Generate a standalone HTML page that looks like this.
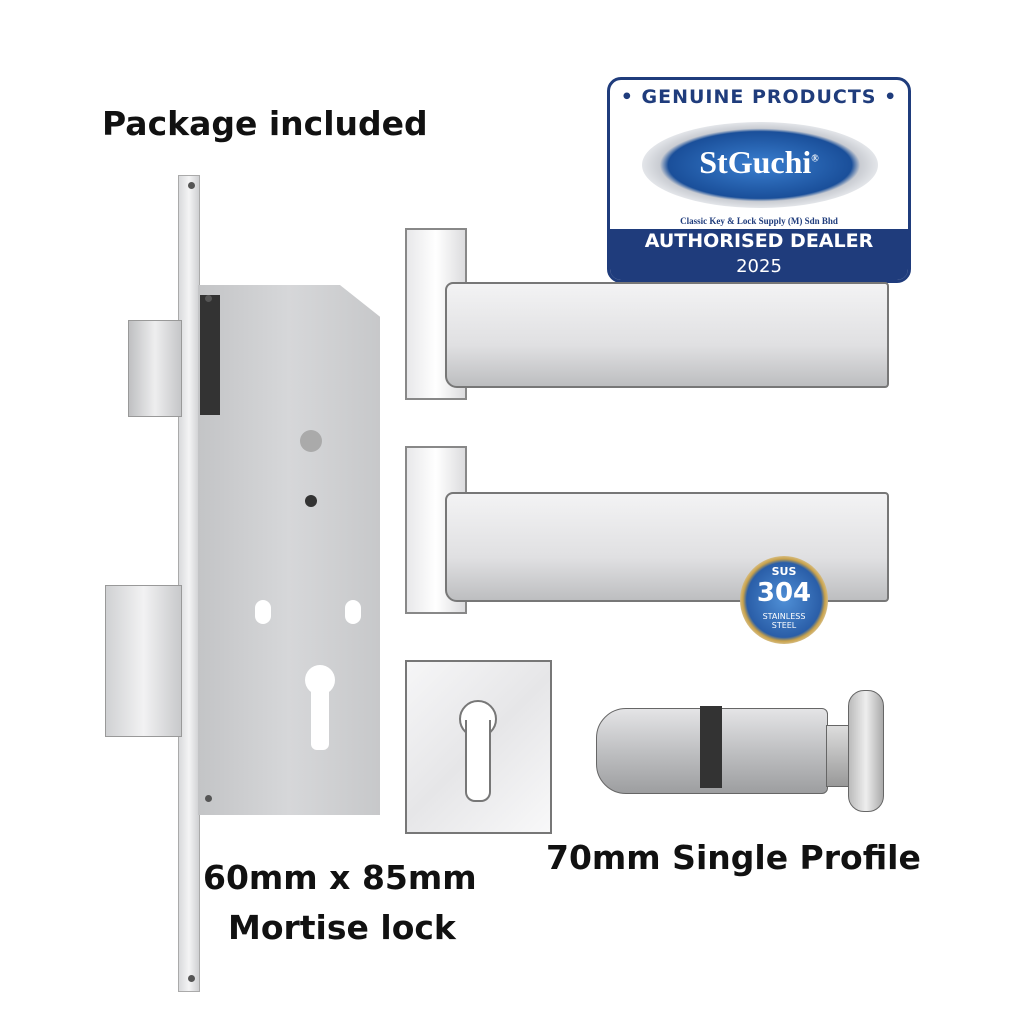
<!DOCTYPE html>
<html><head><meta charset="utf-8"><style>
body{margin:0;width:1024px;height:1024px;background:#fff;position:relative;overflow:hidden;font-family:"DejaVu Sans","Liberation Sans",sans-serif}
.a{position:absolute}
.t{position:absolute;font-weight:bold;color:#111;white-space:nowrap}
</style></head><body>
<div class="t" style="left:102px;top:104px;font-size:33px">Package included</div>

<!-- badge -->
<div class="a" style="left:607px;top:77px;width:298px;height:200px;border:3px solid #1f3c7c;border-radius:14px;background:#fff;overflow:hidden">
  <div class="a" style="left:0;top:6px;width:298px;text-align:center;font-size:19px;font-weight:bold;color:#1f3c7c;letter-spacing:1px">• GENUINE PRODUCTS •</div>
  <div class="a" style="left:32px;top:42px;width:236px;height:86px;border-radius:50%;background:radial-gradient(ellipse at center,#3a7fd0 0%,#1a4f9a 55%,#c9ccd2 60%,#eef0f3 75%,#fff 80%)"></div>
  <div class="a" style="left:0;top:64px;width:298px;text-align:center;font-family:'Liberation Serif',serif;font-size:32px;font-weight:bold;color:#fff">StGuchi<sup style="font-size:10px">®</sup></div>
  <div class="a" style="left:0;top:149px;width:298px;height:55px;background:#1f3c7c"></div>
  <div class="a" style="left:0;top:136px;width:298px;text-align:center;font-family:'Liberation Serif',serif;font-size:9px;font-weight:bold;color:#1f3c7c">Classic Key &amp; Lock Supply (M) Sdn Bhd</div>
  <div class="a" style="left:0;top:150px;width:298px;text-align:center;font-size:19px;font-weight:bold;color:#fff">AUTHORISED DEALER</div>
  <div class="a" style="left:0;top:176px;width:298px;text-align:center;font-size:18px;color:#fff">2025</div>
</div>

<!-- mortise lock -->
<div class="a" style="left:178px;top:175px;width:20px;height:815px;background:linear-gradient(90deg,#d9dadc,#f4f4f5,#cfd0d2);border:1px solid #aaa"></div>
<div class="a" style="left:128px;top:320px;width:52px;height:95px;background:linear-gradient(90deg,#bfc0c2,#eeeeef,#c5c6c8);border:1px solid #999"></div>
<div class="a" style="left:105px;top:585px;width:75px;height:150px;background:linear-gradient(90deg,#d0d1d3,#f2f2f3,#c8c9cb);border:1px solid #999"></div>
<div class="a" style="left:198px;top:285px;width:182px;height:530px;background:linear-gradient(90deg,#c3c4c6,#d6d7d9,#c7c8ca);clip-path:polygon(0 0,78% 0,100% 6%,100% 100%,0 100%)"></div>
<div class="a" style="left:305px;top:665px;width:30px;height:30px;background:#fff;border-radius:50%"></div>
<div class="a" style="left:311px;top:680px;width:18px;height:70px;background:#fff;border-radius:6px"></div>
<div class="a" style="left:255px;top:600px;width:16px;height:24px;background:#fff;border-radius:8px"></div>
<div class="a" style="left:345px;top:600px;width:16px;height:24px;background:#fff;border-radius:8px"></div>
<div class="a" style="left:200px;top:295px;width:20px;height:120px;background:#333"></div>
<div class="a" style="left:300px;top:430px;width:22px;height:22px;background:#aaa;border-radius:50%"></div>
<div class="a" style="left:305px;top:495px;width:12px;height:12px;background:#333;border-radius:50%"></div>
<div class="a" style="left:205px;top:295px;width:7px;height:7px;border-radius:50%;background:#555"></div>
<div class="a" style="left:205px;top:795px;width:7px;height:7px;border-radius:50%;background:#555"></div>
<div class="a" style="left:188px;top:182px;width:7px;height:7px;border-radius:50%;background:#555"></div>
<div class="a" style="left:188px;top:975px;width:7px;height:7px;border-radius:50%;background:#555"></div>

<!-- handles -->
<div class="a" style="left:405px;top:228px;width:58px;height:168px;background:linear-gradient(90deg,#e8e8ea,#fff,#dcdcde);border:2px solid #888"></div>
<div class="a" style="left:445px;top:282px;width:440px;height:102px;background:linear-gradient(180deg,#f3f3f4,#e0e0e2 60%,#bdbec0);border:2px solid #777;border-radius:8px 4px 4px 12px"></div>
<div class="a" style="left:405px;top:446px;width:58px;height:164px;background:linear-gradient(90deg,#e8e8ea,#fff,#dcdcde);border:2px solid #888"></div>
<div class="a" style="left:445px;top:492px;width:440px;height:106px;background:linear-gradient(180deg,#f3f3f4,#e0e0e2 60%,#bdbec0);border:2px solid #777;border-radius:8px 4px 4px 12px"></div>

<!-- SUS 304 -->
<div class="a" style="left:740px;top:556px;width:88px;height:88px;border-radius:50%;background:radial-gradient(circle,#4f8fd6 0%,#2a5ea8 60%,#c9a24a 66%,#eee 80%)"></div>
<div class="a" style="left:740px;top:565px;width:88px;text-align:center;color:#fff;font-weight:bold;font-size:11px">SUS</div>
<div class="a" style="left:740px;top:578px;width:88px;text-align:center;color:#fff;font-weight:bold;font-size:26px">304</div>
<div class="a" style="left:740px;top:612px;width:88px;text-align:center;color:#fff;font-size:8px;line-height:9px">STAINLESS<br>STEEL</div>

<!-- escutcheon -->
<div class="a" style="left:405px;top:660px;width:143px;height:170px;background:linear-gradient(135deg,#f6f6f7,#e6e6e8,#f8f8f9);border:2px solid #777"></div>
<div class="a" style="left:459px;top:700px;width:34px;height:34px;border-radius:50%;background:#fff;border:2px solid #777"></div>
<div class="a" style="left:465px;top:720px;width:22px;height:80px;background:#fff;border:2px solid #777;border-top:none;border-radius:0 0 10px 10px"></div>

<!-- cylinder -->
<div class="a" style="left:596px;top:708px;width:230px;height:84px;background:linear-gradient(180deg,#e4e4e6,#bfc0c2 50%,#9d9ea0);border:1px solid #666;border-radius:30px 6px 6px 30px"></div>
<div class="a" style="left:700px;top:706px;width:22px;height:82px;background:#333"></div>
<div class="a" style="left:826px;top:725px;width:30px;height:60px;background:linear-gradient(180deg,#ddd,#999);border:1px solid #666"></div>
<div class="a" style="left:848px;top:690px;width:34px;height:120px;background:linear-gradient(90deg,#bbb,#eee,#aaa);border:1px solid #666;border-radius:16px"></div>

<div class="t" style="left:203px;top:858px;font-size:33px">60mm x 85mm</div>
<div class="t" style="left:228px;top:908px;font-size:33px">Mortise lock</div>
<div class="t" style="left:546px;top:838px;font-size:33px">70mm Single Profile</div>
</body></html>
